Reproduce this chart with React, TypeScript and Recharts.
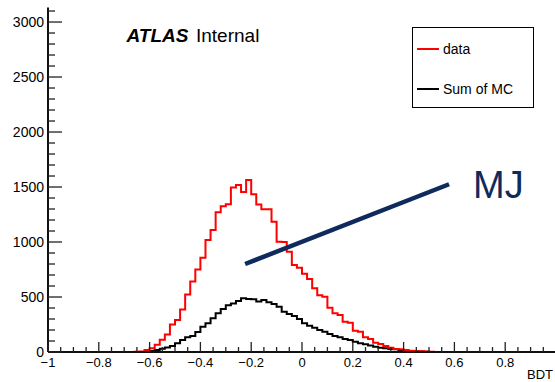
import React from 'react'
import { ComposedChart, Line, XAxis, YAxis, ReferenceLine, Legend } from 'recharts'

// histogram bins, 0.02 wide, first bin starts at -0.68
const binWidth = 0.02
const firstEdge = -0.68

const dataCounts = [
  0, 2, 5, 18, 35, 66, 112, 158, 250, 290, 386, 522, 640, 750, 858, 1018, 1109, 1270, 1325, 1343,
  1495, 1518, 1455, 1564, 1434, 1342, 1297, 1297, 1185, 1003, 1000, 912, 791, 765, 712, 664, 580, 515, 503, 403,
  352, 336, 276, 267, 194, 185, 133, 118, 85, 73, 55, 39, 27, 24, 18, 12, 8, 6, 4, 2,
  1, 0,
]

const mcCounts = [
  0, 0, 0, 3, 8, 18, 30, 42, 55, 79, 109, 133, 145, 182, 230, 262, 306, 352, 390, 425,
  442, 464, 488, 482, 479, 458, 473, 452, 436, 412, 367, 345, 327, 300, 261, 239, 221, 200, 185, 164,
  145, 133, 118, 109, 94, 79, 70, 58, 48, 39, 33, 27, 24, 18, 12, 9, 6, 4, 2, 1,
  0, 0,
]

const xMajorTicks = [-1, -0.8, -0.6, -0.4, -0.2, 0, 0.2, 0.4, 0.6, 0.8, 1]
const xTickLabels = ['\u22121', '\u22120.8', '\u22120.6', '\u22120.4', '\u22120.2', '0', '0.2', '0.4', '0.6', '0.8', '']
const yMajorTicks = [0, 500, 1000, 1500, 2000, 2500, 3000]
const yMax = 3132

// annotation line drawn by hand on the plot
const mjSegment = [
  { x: -0.224, y: 800 },
  { x: 0.579, y: 1525 },
]

const font = '"Liberation Sans", Arial, Helvetica, sans-serif'
const navy = '#0f2a5c'

const rows = dataCounts.map((d, i) => ({
  x: Math.round((firstEdge + i * binWidth) * 100) / 100,
  data: d,
  mc: mcCounts[i],
}))
// closing edge of the last bin
rows.push({ x: Math.round((firstEdge + dataCounts.length * binWidth) * 100) / 100, data: 0, mc: 0 })

const xTicks: number[] = []
for (let v = -1; v <= 1.0001; v += 0.05) xTicks.push(Math.round(v * 100) / 100)
const yTicks: number[] = []
for (let v = 0; v <= 3100; v += 100) yTicks.push(v)

function XTick(props: any) {
  const { x, y, payload } = props
  const idx = xMajorTicks.findIndex((t) => Math.abs(t - payload.value) < 1e-6)
  const major = idx >= 0
  return (
    <g>
      <line x1={x} x2={x} y1={y} y2={y - (major ? 10 : 5)} stroke="#222" strokeWidth={1.3} />
      {major && (
        <text x={x} y={y + 15} textAnchor="middle" fontSize={13} fontFamily={font} fill="#000">
          {xTickLabels[idx]}
        </text>
      )}
    </g>
  )
}

function YTick(props: any) {
  const { x, y, payload } = props
  const major = yMajorTicks.includes(payload.value)
  return (
    <g>
      <line x1={x} x2={x + (major ? 14 : 7)} y1={y} y2={y} stroke="#222" strokeWidth={1.3} />
      {major && (
        <text x={x - 4} y={y + 5} textAnchor="end" fontSize={14} fontFamily={font} fill="#000">
          {payload.value}
        </text>
      )}
    </g>
  )
}

function LegendBox() {
  const row = (color: string, label: string, top: number) => (
    <div style={{ position: 'absolute', left: 4, top, display: 'flex', alignItems: 'center' }}>
      <div style={{ width: 22, height: 2, background: color }} />
      <span style={{ marginLeft: 4, lineHeight: '16px' }}>{label}</span>
    </div>
  )
  return (
    <div
      style={{
        position: 'relative',
        width: 122,
        height: 81,
        boxSizing: 'border-box',
        border: '1px solid #000',
        background: '#fff',
        fontFamily: font,
        fontSize: 14,
        color: '#000',
      }}
    >
      {row('#ff0000', 'data', 13)}
      {row('#000', 'Sum of MC', 53)}
    </div>
  )
}

export default function App() {
  return (
    <div style={{ position: 'absolute', left: 0, top: 0, width: 555, height: 382, overflow: 'hidden', background: '#fff' }}>
      <ComposedChart width={560} height={382} data={rows} margin={{ top: 7.5, right: 4, bottom: 0, left: 0 }}>
        <XAxis
          dataKey="x"
          type="number"
          domain={[-1, 1]}
          ticks={xTicks}
          interval={0}
          tick={<XTick />}
          tickLine={false}
          tickSize={0}
          tickMargin={0}
          height={30}
          axisLine={{ stroke: '#111', strokeWidth: 2 }}
        />
        <XAxis
          xAxisId="top"
          orientation="top"
          type="number"
          domain={[-1, 1]}
          tick={false}
          tickLine={false}
          height={0}
          axisLine={{ stroke: '#333', strokeWidth: 1.5 }}
        />
        <YAxis
          type="number"
          domain={[0, yMax]}
          ticks={yTicks}
          interval={0}
          tick={<YTick />}
          tickLine={false}
          tickSize={0}
          tickMargin={0}
          width={48}
          axisLine={{ stroke: '#111', strokeWidth: 2 }}
        />
        <Legend
          layout="horizontal"
          verticalAlign="middle"
          align="center"
          wrapperStyle={{ left: 412, top: 27, width: 122, height: 81 }}
          content={<LegendBox />}
        />
        <Line
          dataKey="mc"
          name="Sum of MC"
          type="stepAfter"
          stroke="#000"
          strokeWidth={2}
          dot={false}
          isAnimationActive={false}
        />
        <Line
          dataKey="data"
          name="data"
          type="stepAfter"
          stroke="#ff0000"
          strokeWidth={2}
          dot={false}
          isAnimationActive={false}
        />
        <ReferenceLine segment={mjSegment} stroke={navy} strokeWidth={4.5} ifOverflow="visible" />
        <text x={126.5} y={41.5} fontSize={19} fontFamily={font} fill="#000">
          <tspan fontWeight="bold" fontStyle="italic">ATLAS</tspan>
          <tspan x={196}>Internal</tspan>
        </text>
        <text x={473} y={198} fontSize={38} fontFamily={font} fill={navy}>
          MJ
        </text>
        <text x={527} y={378.5} fontSize={13} fontFamily={font} fill="#000">
          BDT
        </text>
      </ComposedChart>
    </div>
  )
}
